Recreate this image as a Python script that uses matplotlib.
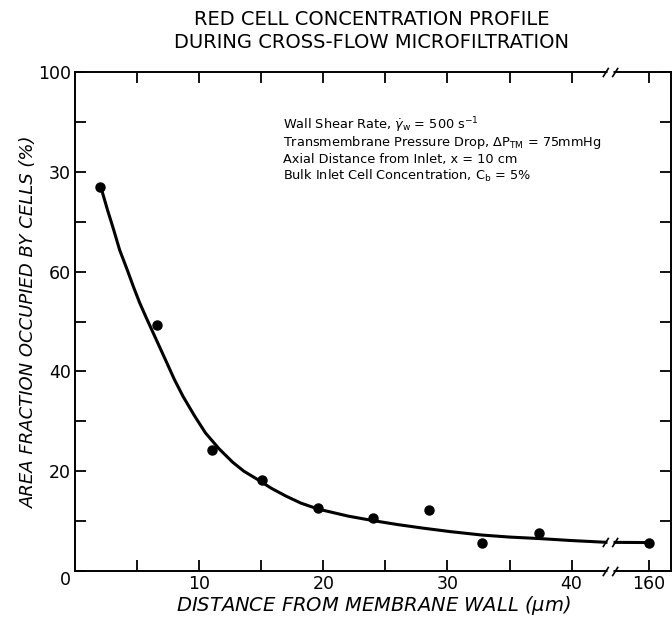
import numpy as np
import matplotlib.pyplot as plt
from matplotlib.path import Path

# measured points: distance from membrane wall (um) vs area fraction (%)
dist_um = [2.0, 6.6, 11.0, 15.1, 19.6, 24.0, 28.5, 32.8, 37.4, 160.0]
area_pct = [77.0, 49.3, 24.3, 18.3, 12.6, 10.7, 12.2, 5.6, 7.6, 5.7]

# hand-drawn fit curve through the data
curve_x = [2.1, 2.6, 3.1, 3.6, 4.2, 4.7, 5.2, 5.75, 6.3, 6.85, 7.4, 8.0,
           8.7, 9.6, 10.5, 11.6, 12.7, 13.6, 14.6, 15.8, 17.0, 18.2,
           19.6, 22.0, 24.0, 26.0, 28.0, 30.2, 32.8, 35.0, 37.4, 40.0, 42.8, 160.0]
curve_y = [76.8, 72.5, 68.5, 64.3, 60.4, 57.0, 53.8, 50.7, 47.7, 44.7, 41.7, 38.4,
           35.0, 31.2, 27.7, 24.5, 21.8, 20.0, 18.5, 16.6, 15.0, 13.6,
           12.4, 11.0, 10.1, 9.3, 8.6, 7.9, 7.2, 6.8, 6.5, 6.1, 5.75, 5.7]

xtick_major = [10, 20, 30, 40, 160]
xtick_minor = [5, 15, 25, 35]
ytick_major = [0, 20, 40, 60, 80, 100]
ytick_labels = ['0', '20', '40', '60', '30', '100']
ytick_minor = [10, 30, 50, 70, 90]

notes = [r'Wall Shear Rate, $\dot{\gamma}_\mathrm{w}$ = 500 s$^{-1}$',
         r'Transmembrane Pressure Drop, $\Delta\mathrm{P}_{\mathrm{TM}}$ = 75mmHg',
         r'Axial Distance from Inlet, x = 10 cm',
         r'Bulk Inlet Cell Concentration, C$_\mathrm{b}$ = 5%']

# broken x axis: linear up to 43 um, compressed beyond
X_BRK = 43.0
K = 3.2 / 117.0


def fwd(x):
    x = np.asarray(x, dtype=float)
    return np.where(x <= X_BRK, x, X_BRK + (x - X_BRK) * K)


def inv(u):
    u = np.asarray(u, dtype=float)
    return np.where(u <= X_BRK, u, X_BRK + (u - X_BRK) / K)


fig = plt.figure(figsize=(6.72, 6.2), dpi=100)
ax = fig.add_axes([75 / 672, 49 / 620, 596 / 672, 499 / 620])
ax.set_xscale('function', functions=(fwd, inv))
ax.set_xlim(0, 226)
ax.set_ylim(0, 100)

ax.plot(curve_x, curve_y, color='black', lw=2.2, zorder=2)
ax.plot(dist_um, area_pct, 'o', color='black', ms=6.5, zorder=3, clip_on=False)

ax.set_xticks(xtick_major)
ax.set_xticklabels([str(v) for v in xtick_major])
ax.set_xticks(xtick_minor, minor=True)
ax.set_yticks(ytick_major)
ax.set_yticklabels(ytick_labels)
ax.set_yticks(ytick_minor, minor=True)
ax.get_yticklabels()[0].set_verticalalignment('top')

ax.tick_params(which='both', direction='in', length=8, width=1.3,
               top=True, right=True, labelsize=12.5, pad=3)
for sp in ax.spines.values():
    sp.set_linewidth(1.4)

# break marks on the axes and the curve
slash = Path([(-2.6, -1.6), (-0.6, 1.6), (0.6, -1.6), (2.6, 1.6)],
             [Path.MOVETO, Path.LINETO, Path.MOVETO, Path.LINETO])
x_cut = 46.0
for yy, tr in [(0, ax.get_xaxis_transform()), (1, ax.get_xaxis_transform()),
               (5.72, ax.transData)]:
    ax.plot([x_cut], [yy], 's', color='white', ms=4.5, mec='none',
            transform=tr, clip_on=False, zorder=4)
    ax.plot([x_cut], [yy], marker=slash, color='black', ms=11, mew=1.2,
            transform=tr, clip_on=False, zorder=5)

for i, txt in enumerate(notes):
    ax.text(0.349, 0.886 - i * 0.034, txt, transform=ax.transAxes,
            fontsize=9.3, ha='left', va='baseline')

ax.set_xlabel(r'DISTANCE FROM MEMBRANE WALL ($\mu$m)', fontsize=14,
              style='italic', va='top')
ax.xaxis.set_label_coords(0.5, -0.046)
ax.set_ylabel('AREA FRACTION OCCUPIED BY CELLS (%)', fontsize=13,
              style='italic')
ax.yaxis.set_label_coords(-0.062, 0.5)
fig.text(0.553, 0.968, 'RED CELL CONCENTRATION PROFILE', ha='center',
         va='center', fontsize=14)
fig.text(0.553, 0.932, 'DURING CROSS-FLOW MICROFILTRATION', ha='center',
         va='center', fontsize=14)

fig.savefig('out.png', dpi=100)
